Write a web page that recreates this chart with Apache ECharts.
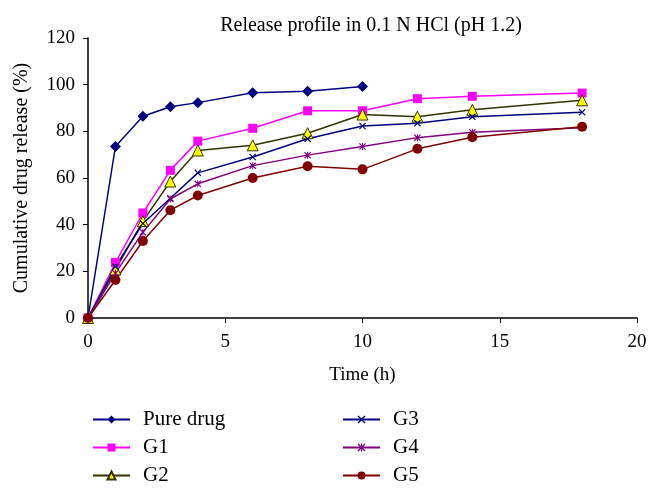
<!DOCTYPE html>
<html><head><meta charset="utf-8">
<script src="https://cdn.jsdelivr.net/npm/echarts@6/dist/echarts.min.js"></script>
<style>html,body{margin:0;padding:0;background:#fff}#c{width:657px;height:493px}</style>
</head><body><div id="c"></div>
<script>
const timesAll = [0, 1, 2, 3, 4, 6, 8, 10, 12, 14, 18];
const timesPure = [0, 1, 2, 3, 4, 6, 8, 10];
const pureDrug = [0, 73.5, 86.5, 90.5, 92.3, 96.5, 97.2, 99.2];
const g1 = [0, 23.8, 45, 63.3, 75.8, 81.3, 88.8, 88.8, 94, 95, 96.4];
const g2 = [0, 20.8, 41.5, 58.5, 71.8, 74, 79.2, 87.2, 86.3, 89.2, 93.3];
const g3 = [0, 22, 40.5, 51.3, 62.2, 69, 76.8, 82.3, 83.5, 86.2, 88.2];
const g4 = [0, 19.2, 36.8, 51, 57.5, 65.3, 69.8, 73.5, 77.3, 79.6, 81.5];
const g5 = [0, 16.3, 33, 46.2, 52.5, 60, 65, 63.7, 72.5, 77.5, 82];
const xTicks = [0, 5, 10, 15, 20];
const yTicks = [0, 20, 40, 60, 80, 100, 120];

const font = 'Liberation Serif';
const xSym = 'path://M0,1.2L1.2,0L5,3.8L8.8,0L10,1.2L6.2,5L10,8.8L8.8,10L5,6.2L1.2,10L0,8.8L3.8,5Z';
const starSym = 'path://M0,1.2L1.2,0L5,3.8L8.8,0L10,1.2L6.2,5L10,8.8L8.8,10L5,6.2L1.2,10L0,8.8L3.8,5Z M4.3,0L5.7,0L5.7,10L4.3,10Z';
function pairs(xs, ys){ return xs.map((x,i)=>[x, ys[i]]); }

function mk(name, xs, ys, color, symbol, size, fill, border){
  return {
    name, type:'line', data: pairs(xs, ys), symbol, symbolSize: size,
    lineStyle:{color, width:1.5},
    itemStyle:{color: fill || color, borderColor: border || color, borderWidth: border ? 1 : 0},
    emphasis:{disabled:true}, z: 2
  };
}

const series = [
  mk('Pure drug', timesPure, pureDrug, '#000080', 'diamond', 11),
  mk('G1', timesAll, g1, '#FF00FF', 'rect', 9),
  mk('G2', timesAll, g2, '#333300', 'triangle', 11, '#FFFF00', '#333300'),
  mk('G3', timesAll, g3, '#000080', xSym, 7),
  mk('G4', timesAll, g4, '#800080', starSym, 7),
  mk('G5', timesAll, g5, '#800000', 'circle', 10)
];

const chart = echarts.init(document.getElementById('c'), null, {renderer:'canvas'});
const legendBase = {
  orient:'vertical', top: 409, padding: 0, itemGap: 7, itemWidth: 37, itemHeight: 10,
  textStyle:{fontFamily: font, fontSize: 21, lineHeight: 21, color:'#000', padding:[0,0,0,8]}
};
chart.setOption({
  animation:false,
  backgroundColor:'#fff',
  title:{text:'Release profile in 0.1 N HCl (pH 1.2)', left: 366, top: 11, textAlign:'center',
    textStyle:{fontFamily: font, fontSize: 20, fontWeight:'normal', color:'#000'}},
  grid:{left: 88, right: 20, top: 38, bottom: 175},
  xAxis:{type:'value', min: 0, max: 20, interval: 5,
    name:'Time (h)', nameLocation:'middle', nameGap: 48,
    nameTextStyle:{fontFamily: font, fontSize: 19, color:'#000'},
    axisLine:{lineStyle:{color:'#000', width:1.5}},
    axisTick:{show:true, length:5, lineStyle:{color:'#000'}},
    axisLabel:{fontFamily: font, fontSize: 19, color:'#000', margin: 15,
      formatter: v => xTicks.includes(v) ? String(v) : ''},
    splitLine:{show:false}},
  yAxis:{type:'value', min: 0, max: 120, interval: 20,
    name:'Cumulative drug release (%)', nameLocation:'middle', nameGap: 56,
    nameTextStyle:{fontFamily: font, fontSize: 20, color:'#000'},
    axisLine:{show:true, lineStyle:{color:'#000', width:1.5}},
    axisTick:{show:true, length:5, lineStyle:{color:'#000'}},
    axisLabel:{fontFamily: font, fontSize: 19, color:'#000', margin: 13,
      formatter: v => yTicks.includes(v) ? String(v) : ''},
    splitLine:{show:false}},
  legend:[
    Object.assign({}, legendBase, {left: 92, data:['Pure drug','G1','G2']}),
    Object.assign({}, legendBase, {left: 342, data:['G3','G4','G5']})
  ],
  series
});
</script></body></html>
